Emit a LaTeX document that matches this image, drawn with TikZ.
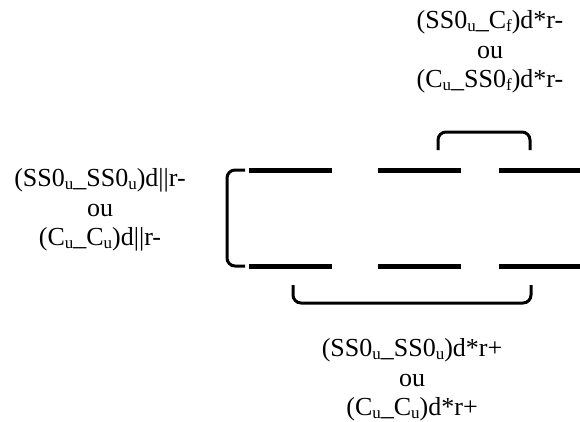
\documentclass[tikz,border=0pt]{standalone}
\usepackage{fontspec}
\setmainfont{Liberation Serif}
% lowered index letter, slightly larger than a plain subscript
\newcommand\idx[1]{\raisebox{-0.22ex}{\fontsize{17}{17}\selectfont #1}}
\begin{document}
\begin{tikzpicture}[x=1pt,y=-1pt,
  strand/.style={line width=5pt,line cap=butt},
  brace/.style={line width=3pt,rounded corners=8pt,line cap=butt},
  lbl/.style={align=center,inner sep=0pt,font=\fontsize{26}{29.5}\selectfont}]
\useasboundingbox (0,0) rectangle (580,421);

% two rows of strand segments
\foreach \y in {170,266}{
  \draw[strand] (249,\y) -- (332,\y);
  \draw[strand] (378,\y) -- (461,\y);
  \draw[strand] (499,\y) -- (580,\y);
}

% brackets
\draw[brace] (245,170) -- (227,170) -- (227,266) -- (245,266);
\draw[brace] (438,150) -- (438,132) -- (530,132) -- (530,150);
\draw[brace] (293,285) -- (293,303) -- (531,303) -- (531,285);

% labels
\node[lbl] (left) at (100,210)
  {(SS0\idx{u}\_SS0\idx{u})d||r-\\ou\\(C\idx{u}\_C\idx{u})d||r-};
\node[lbl] (top) at (490,52)
  {(SS0\idx{u}\_C\idx{f})d*r-\\ou\\(C\idx{u}\_SS0\idx{f})d*r-};
\node[lbl] (bottom) at (412,380)
  {(SS0\idx{u}\_SS0\idx{u})d*r+\\ou\\(C\idx{u}\_C\idx{u})d*r+};
\end{tikzpicture}
\end{document}
